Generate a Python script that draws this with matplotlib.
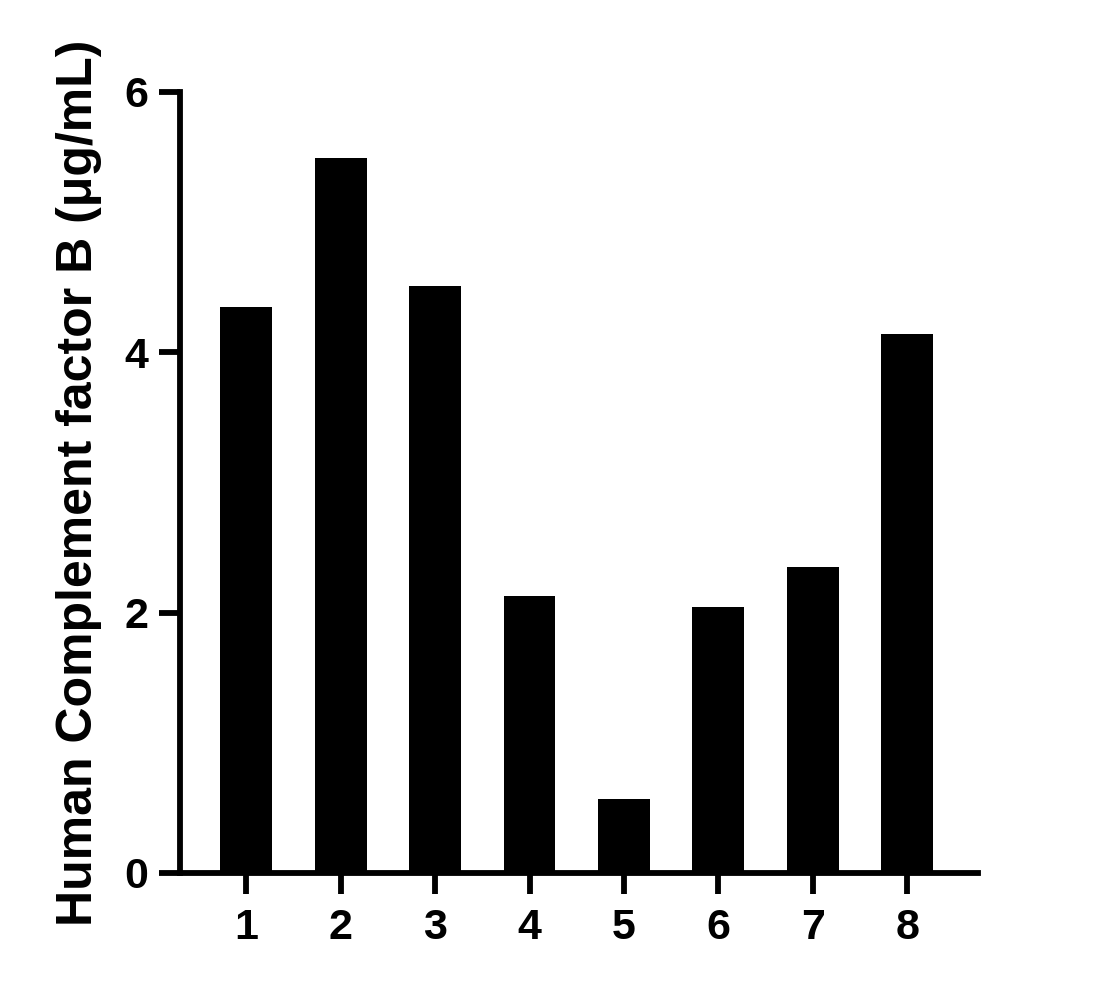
import matplotlib
matplotlib.use('Agg')
import matplotlib.pyplot as plt

plt.rcParams['font.family'] = ['Liberation Sans', 'DejaVu Sans']
plt.rcParams['font.weight'] = 'bold'

# Data
samples = ['1', '2', '3', '4', '5', '6', '7', '8']
values = [4.35, 5.49, 4.51, 2.13, 0.57, 2.04, 2.35, 4.14]
y_ticks = [0, 2, 4, 6]

fig = plt.figure(figsize=(11.1, 9.9), dpi=100)
ax = fig.add_axes([0.1622, 0.1182, 0.719, 0.789])

x = list(range(1, len(samples) + 1))
ax.bar(x, values, width=0.55, color='black', edgecolor='black', linewidth=0)

ax.set_xlim(0.3, 8.75)
ax.set_ylim(0, 6)
ax.set_xticks(x)
ax.set_xticklabels(samples)
ax.set_yticks(y_ticks)

for side in ['top', 'right']:
    ax.spines[side].set_visible(False)
for side in ['left', 'bottom']:
    ax.spines[side].set_linewidth(4.2)
    ax.spines[side].set_capstyle('projecting')

ax.tick_params(axis='both', direction='out', length=15, width=4.2,
               labelsize=31, pad=8)
ax.tick_params(axis='x', pad=10)
for lab in ax.get_xticklabels() + ax.get_yticklabels():
    lab.set_fontweight('bold')

ax.set_ylabel('Human Complement factor B (μg/mL)', fontsize=36,
              fontweight='bold', labelpad=16)

fig.savefig('out.png', dpi=100)
